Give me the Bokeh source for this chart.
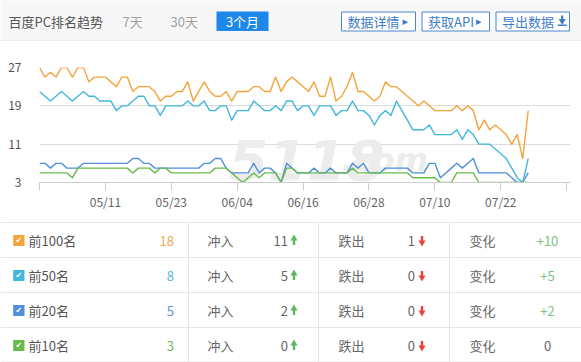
from bokeh.plotting import figure
from bokeh.models import Range1d, FixedTicker, ColumnDataSource
from bokeh.embed import file_html
from bokeh.resources import INLINE
from bokeh.core.properties import value

# ---------------- data ----------------
top100 = [27, 25, 26, 25, 27, 27, 25, 27, 27, 24, 25, 25, 25, 24, 23, 25, 25, 22, 23, 23,
          23, 22, 20, 21, 21, 22, 22, 24, 20, 22, 24, 22, 21, 21, 22, 20, 22, 22, 22, 23,
          23, 22, 22, 25, 22, 24,
          25, 24, 23, 22, 24, 21, 21, 25, 20, 21, 23, 26, 22, 22, 21, 20, 21, 24, 23, 23,
          22, 21, 20, 19, 20, 19, 18, 18, 18, 18, 19, 18, 19, 18, 14, 16, 14, 15, 14, 13,
          11, 13, 8, 18]
top50 = [22, 21, 20, 21, 22, 21, 20, 21, 22, 21, 21, 20, 20, 20, 18, 19, 19, 20, 21, 21,
         19, 19, 17, 19, 19, 19, 19, 20, 19, 19, 20, 18, 18, 19, 19, 16, 18, 18, 18, 20,
         19, 18, 18, 19, 18,
         20, 20, 18, 19, 19, 17, 19, 19, 19, 17, 18, 18, 20, 18, 18, 17, 15, 17, 18, 17,
         20, 18, 16, 14, 14, 14, 15, 13, 13, 13, 13, 14, 12, 14, 13, 11, 11, 11, 10, 9,
         8, 6, 4, 3, 8]
top20 = [7, 7, 6, 7, 7, 6, 6, 6, 7, 7, 7, 7, 7, 7, 7, 7, 7, 8, 8, 7,
         7, 6, 6, 6, 6, 6, 6, 6, 6, 6, 7, 7, 8, 8, 6, 5, 5, 5, 5, 7,
         5, 6, 6, 5, 3,
         7, 6, 5, 5, 5, 6, 5, 5, 6, 5, 5, 5, 7, 6, 7, 5, 5, 5, 6, 6,
         6, 6, 6, 5, 5, 5, 7, 7, 4, 5, 6, 7, 6, 7, 8, 5, 5, 5, 5, 5,
         5, 4, 3, 3, 5]
top10 = [5, 5, 5, 5, 5, 5, 4, 6, 6, 6, 6, 6, 6, 6, 6, 6, 6, 5, 6, 6,
         6, 5, 6, 6, 5, 5, 5, 5, 5, 5, 5, 5, 6, 6, 6, 5, 4, 3, 4, 5,
         4, 5, 5, 5, 3,
         6, 6, 5, 5, 5, 5, 5, 5, 5, 5, 5, 5, 6, 5, 5, 5, 5, 5, 5, 5,
         5, 5, 5, 4, 4, 4, 4, 4, 3, 3, 3, 5, 5, 5, 5, 3, 3, 3, 3, 3,
         3, 3, 3, 3, 3]
day_index = list(range(len(top100)))

tick_positions = [0, 12, 24, 36, 48, 60, 72, 84, 96]
tick_labels = ["", "05/11", "05/23", "06/04", "06/16", "06/28", "07/10", "07/22", ""]
y_ticks = [3, 11, 19, 27]

series_colors = ["#f5a43c", "#42b7df", "#4f8fdc", "#67bb4b"]
value_colors = ["#f0a85a", "#5ab9e0", "#5b96dc", "#6dbb58"]

row_labels = ["前100名", "前50名", "前20名", "前10名"]
current = [18, 8, 5, 3]
rise_in = [11, 5, 2, 0]
drop_out = [1, 0, 0, 0]
change = ["+10", "+5", "+2", "0"]

header_title = "百度PC排名趋势"
period_tabs = ["7天", "30天"]
active_tab = "3个月"
buttons = ["数据详情", "获取API", "导出数据"]

FONT = "Noto Sans CJK SC"
W = 581


def txt(p, x, y, s, color, size="13px", align="left", font=FONT, style="normal"):
    p.text(x=[x], y=[y], text=[s], text_color=color, text_font_size=size,
           text_align=align, text_baseline="middle", text_font=value(font),
           text_font_style=style)


def pixel_fig(h, top, bg):
    p = figure(width=W, height=h, x_range=Range1d(0, W), y_range=Range1d(top + h, top),
               x_axis_type=None, y_axis_type=None, toolbar_location=None,
               output_backend="svg", min_border=0)
    p.outline_line_color = None
    p.background_fill_color = bg
    p.border_fill_color = bg
    return p


# ---------------- header (screen y 0..41) ----------------
hdr = pixel_fig(41, 0, "#f7f7f7")
txt(hdr, 8, 21, header_title, "#555555")
tab_x = [122, 170]
for tx, t in zip(tab_x, period_tabs):
    txt(hdr, tx, 21, t, "#a0a0a0")
hdr.quad(left=[216], right=[268], top=[11], bottom=[30.5], fill_color="#1d87ea", line_color=None)
txt(hdr, 242, 21, active_tab, "#ffffff", align="center")
btn_l = [341, 421.5, 495.5]
btn_r = [415, 489, 569]
hdr.quad(left=btn_l, right=btn_r, top=[11.5] * 3, bottom=[30.5] * 3,
         fill_color="#ffffff", line_color="#4a86c8", line_width=1)
for bl, b in zip(btn_l, buttons):
    txt(hdr, bl + 6, 21, b, "#3d7cc9")
txt(hdr, 402, 21, "▸", "#3d7cc9", size="11px", font="DejaVu Sans")
txt(hdr, 475.5, 21, "▸", "#3d7cc9", size="11px", font="DejaVu Sans")
hdr.scatter(x=[561.7], y=[20.5], marker="inverted_triangle", size=7, fill_color="#3d7cc9", line_color=None)
hdr.rect(x=[561.7], y=[17.5], width=2.2, height=5, fill_color="#3d7cc9", line_color=None)
hdr.rect(x=[561.7], y=[24.8], width=9, height=1.6, fill_color="#3d7cc9", line_color=None)
hdr.segment(x0=[0], x1=[W], y0=[40.5], y1=[40.5], line_color="#e3e3e3", line_width=1)

# ---------------- chart (screen y 41..215) ----------------
src = ColumnDataSource(dict(idx=day_index, top100=top100, top50=top50, top20=top20, top10=top10))
ch = figure(width=W, height=174, x_range=Range1d(0, 96.7), y_range=Range1d(3, 27),
            toolbar_location=None, output_backend="svg",
            min_border_left=39, min_border_right=11, min_border_top=26, min_border_bottom=33)
ch.outline_line_color = None
ch.xgrid.grid_line_color = None
ch.ygrid.ticker = FixedTicker(ticks=y_ticks)
ch.ygrid.grid_line_color = "#dcdcdc"
ch.ygrid.grid_line_width = 1

ch.xaxis.ticker = FixedTicker(ticks=tick_positions)
ch.xaxis.major_label_overrides = {t: l for t, l in zip(tick_positions, tick_labels)}
ch.xaxis.axis_line_color = "#cccccc"
ch.xaxis.major_tick_line_color = "#cccccc"
ch.xaxis.major_tick_out = 8
ch.xaxis.major_tick_in = 0
ch.xaxis.minor_tick_line_color = None
ch.xaxis.major_label_standoff = 2
ch.xaxis.major_label_text_font = FONT
ch.xaxis.major_label_text_font_size = "12px"
ch.xaxis.major_label_text_color = "#666666"

ch.yaxis.ticker = FixedTicker(ticks=y_ticks)
ch.yaxis.axis_line_color = None
ch.yaxis.major_tick_line_color = None
ch.yaxis.minor_tick_line_color = None
ch.yaxis.major_tick_out = 0
ch.yaxis.major_label_standoff = 18
ch.yaxis.major_label_text_font = FONT
ch.yaxis.major_label_text_font_size = "12px"
ch.yaxis.major_label_text_color = "#555555"

# faint watermark
ch.text(x=[34.5], y=[7.6], text=["5118"], text_color="#ececec", text_font_size="56px",
        text_font=value("DejaVu Sans"), text_font_style="bold italic", text_baseline="alphabetic")
ch.text(x=[55.0], y=[7.6], text=[".com"], text_color="#ececec", text_font_size="32px",
        text_font=value("DejaVu Sans"), text_font_style="bold italic", text_baseline="alphabetic")

for key, c in zip(["top100", "top50", "top20", "top10"], series_colors):
    ch.line("idx", key, source=src, line_color=c, line_width=1.4, line_join="round")

# ---------------- table (screen y 215..362) ----------------
tb = pixel_fig(147, 215, "#ffffff")
row_lines = [222, 257, 292, 327, 361.5]
tb.segment(x0=[0] * 5, x1=[W] * 5, y0=row_lines, y1=row_lines, line_color="#e6e6e6", line_width=1)
col_lines = [188, 318, 449]
tb.segment(x0=col_lines, x1=col_lines, y0=[222] * 3, y1=[362] * 3, line_color="#e6e6e6", line_width=1)

for k in range(4):
    ry = 240 + 35 * k
    tb.quad(left=[12.7], right=[24], top=[ry - 5.6], bottom=[ry + 5.6],
            fill_color=series_colors[k], line_color=None)
    txt(tb, 18.4, ry + 0.3, "✔", "#ffffff", size="8px", align="center", font="DejaVu Sans")
    txt(tb, 28, ry, row_labels[k], "#555555")
    txt(tb, 173.5, ry, str(current[k]), value_colors[k], align="right")
    txt(tb, 207, ry, "冲入", "#666666")
    txt(tb, 287.5, ry, str(rise_in[k]), "#666666", align="right")
    tb.scatter(x=[293.5], y=[ry - 2], marker="triangle", size=7, fill_color="#5cb85c", line_color=None)
    tb.rect(x=[293.5], y=[ry + 2], width=2.4, height=5, fill_color="#5cb85c", line_color=None)
    txt(tb, 338, ry, "跌出", "#666666")
    txt(tb, 414.5, ry, str(drop_out[k]), "#666666", align="right")
    tb.scatter(x=[421.5], y=[ry + 2], marker="inverted_triangle", size=7, fill_color="#e8433c", line_color=None)
    tb.rect(x=[421.5], y=[ry - 2], width=2.4, height=5, fill_color="#e8433c", line_color=None)
    txt(tb, 469, ry, "变化", "#666666")
    txt(tb, 547, ry, change[k], "#7cc17c" if change[k] != "0" else "#666666", align="center")

open("out.html", "w").write(file_html([hdr, ch, tb], INLINE))
